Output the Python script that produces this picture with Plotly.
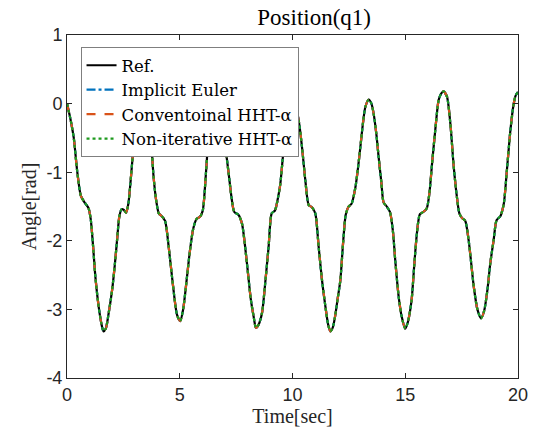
import plotly.graph_objects as go

# Time [sec] and angle [rad]
time_s = [0.00, 0.15, 0.30, 0.45, 0.62, 0.80, 0.95, 1.05, 1.15, 1.26, 1.40, 1.52, 1.62, 1.72, 1.85,
          2.00, 2.12, 2.22, 2.32, 2.42, 2.52, 2.62, 2.72, 2.81, 2.91, 3.00, 3.15, 3.35, 3.55, 3.74,
          3.84, 3.95, 4.07, 4.20, 4.35, 4.51, 4.70, 4.88, 5.02, 5.15, 5.32, 5.45, 5.60, 5.75, 5.90,
          6.02, 6.16, 6.24, 6.40, 6.60, 6.80, 7.02, 7.17, 7.30, 7.42, 7.60, 7.76, 7.98, 8.15, 8.28,
          8.38, 8.50, 8.65, 8.78, 8.94, 9.08, 9.22, 9.37, 9.46, 9.60, 9.75, 10.00, 10.25, 10.42,
          10.57, 10.72, 10.86, 11.01, 11.16, 11.30, 11.46, 11.58, 11.68, 11.78, 11.88, 12.00, 12.12,
          12.25, 12.36, 12.49, 12.62, 12.79, 12.90, 13.01, 13.12, 13.23, 13.38, 13.50, 13.60, 13.72,
          13.82, 13.94, 14.04, 14.18, 14.32, 14.45, 14.56, 14.71, 14.84, 15.00, 15.12, 15.28, 15.40,
          15.52, 15.65, 15.80, 15.95, 16.07, 16.19, 16.33, 16.48, 16.60, 16.70, 16.85, 17.00, 17.15,
          17.29, 17.40, 17.52, 17.66, 17.81, 18.04, 18.20, 18.36, 18.50, 18.65, 18.77, 18.92, 19.05,
          19.22, 19.37, 19.50, 19.66, 19.80, 19.90, 20.00]
angle_rad = [0.00, -0.22, -0.50, -0.98, -1.35, -1.45, -1.52, -1.68, -2.05, -2.53, -2.95, -3.20, -3.32, -3.28, -3.05,
             -2.72, -2.35, -1.99, -1.65, -1.54, -1.55, -1.59, -1.46, -1.17, -0.78, -0.45, -0.05, 0.08, -0.10, -0.61,
             -1.07, -1.40, -1.60, -1.64, -1.71, -2.09, -2.65, -3.08, -3.17, -3.00, -2.53, -2.15, -1.82, -1.68, -1.65,
             -1.56, -1.02, -0.65, -0.15, 0.10, -0.15, -0.63, -1.02, -1.38, -1.58, -1.62, -1.75, -2.33, -2.85, -3.11,
             -3.27, -3.22, -3.05, -2.65, -2.09, -1.60, -1.56, -1.35, -1.17, -0.68, -0.20, 0.05, -0.20, -0.63,
             -1.12, -1.48, -1.51, -1.60, -2.09, -2.55, -2.96, -3.22, -3.32, -3.27, -3.12, -2.85, -2.58,
             -2.00, -1.62, -1.50, -1.46, -1.22, -0.95, -0.63, -0.30, -0.05, 0.06, 0.00, -0.15, -0.45,
             -0.78, -1.15, -1.44, -1.50, -1.58, -1.85, -2.30, -2.82, -3.10, -3.28, -3.18, -2.87, -2.35,
             -1.88, -1.61, -1.58, -1.53, -1.31, -0.87, -0.39, 0.05, 0.15, 0.18, 0.10, -0.29, -0.92,
             -1.36, -1.60, -1.67, -1.71, -1.99, -2.67, -3.00, -3.13, -3.02, -2.70, -2.33, -1.99, -1.70,
             -1.64, -1.46, -1.00, -0.40, -0.02, 0.12, 0.17]

series_names = ["Ref.", "Implicit Euler", "Conventoinal HHT-\u03b1", "Non-iterative HHT-\u03b1"]
series_colors = ["#000000", "#0072BD", "#D95319", "#1E9A1E"]
series_dash = ["solid", "dashdot", "dash", "dot"]

x_ticks = [0, 5, 10, 15, 20]
x_tick_labels = ["0", "5", "10", "15", "20"]
y_ticks = [-4, -3, -2, -1, 0, 1]
y_tick_labels = ["-4", "-3", "-2", "-1", "0", "1"]

fig = go.Figure()
for name, color, dash in zip(series_names, series_colors, series_dash):
    fig.add_trace(go.Scatter(
        x=time_s, y=angle_rad, mode="lines", name=name,
        line=dict(color=color, dash=dash, width=2.2, shape="spline", smoothing=0.7),
    ))

serif = "Liberation Serif"
sans = "Liberation Sans"
axis_common = dict(
    showline=True, linecolor="#262626", linewidth=1, mirror="ticks",
    ticks="inside", ticklen=5, tickcolor="#262626", tickwidth=1,
    showgrid=False, zeroline=False, automargin=False, ticklabeloverflow="allow",
    tickfont=dict(family=sans, size=18, color="#262626"),
)

fig.update_layout(
    width=534, height=439,
    margin=dict(l=67, r=16, t=35, b=61, autoexpand=False),
    paper_bgcolor="white", plot_bgcolor="white",
    font=dict(family=serif),
    title=dict(text="Position(q1)", x=0.548, xref="paper", xanchor="center",
               y=1 - 17 / 439, yref="container", yanchor="middle",
               font=dict(family=serif, size=23, color="#000000"), automargin=False),
    xaxis=dict(range=[0, 20], tickvals=x_ticks, ticktext=x_tick_labels,
               title=dict(text="Time[sec]", font=dict(family=serif, size=20, color="#262626"), standoff=2),
               **axis_common),
    yaxis=dict(range=[-4, 1], tickvals=y_ticks, ticktext=y_tick_labels,
               title=dict(text="Angle[rad]", font=dict(family=serif, size=20, color="#262626"), standoff=4),
               **axis_common),
    legend=dict(x=0.03, y=0.965, xanchor="left", yanchor="top",
                bgcolor="white", bordercolor="#7f7f7f", borderwidth=1,
                font=dict(family="DejaVu Serif", size=16.5, color="#000000"),
                tracegroupgap=0, itemwidth=30),
    showlegend=True,
)

fig.write_html("out.html",
               config={"displayModeBar": False},
               post_script="document.body.style.margin='0';document.body.style.overflow='hidden';")
